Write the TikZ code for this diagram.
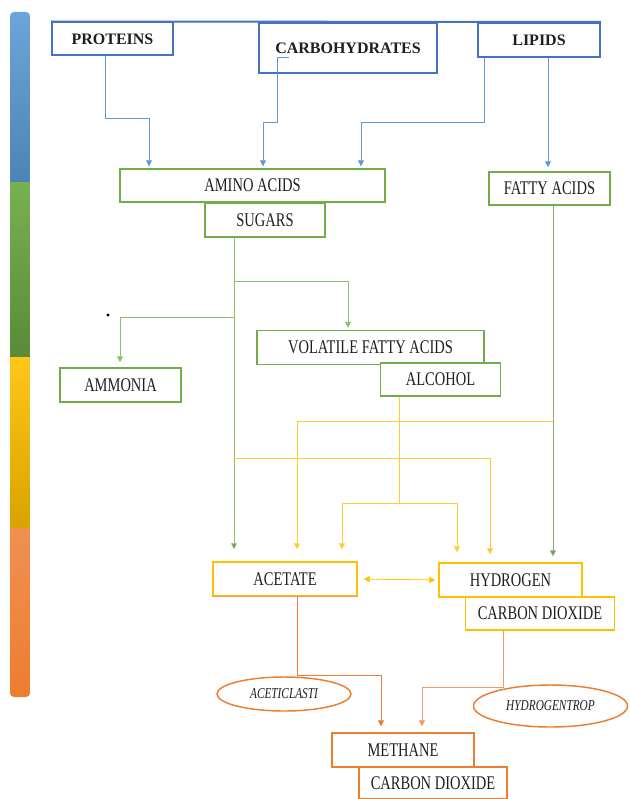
\documentclass[tikz,border=0pt]{standalone}
\usepackage{fontspec}
\setmainfont[FakeStretch=0.75]{Liberation Serif}
\newfontfamily\hdfont{Liberation Serif}
\usetikzlibrary{arrows.meta,shapes.geometric}
\definecolor{bblue}{HTML}{4472C4}
\definecolor{lblue}{HTML}{5B9BD5}
\definecolor{bgreen}{HTML}{70AD47}
\definecolor{lgreen}{HTML}{8CC168}
\definecolor{dgreen}{HTML}{6A9E4A}
\definecolor{byellow}{HTML}{FFC000}
\definecolor{lyellow}{HTML}{FFCC33}
\definecolor{borange}{HTML}{ED7D31}
\definecolor{lorange}{HTML}{F09A60}
\begin{document}
\begin{tikzpicture}[x=0.75pt,y=-0.75pt,
 box/.style={draw,fill=white,rectangle,inner sep=0pt,align=center,text=black!88,font=\fontsize{14.5}{16}\selectfont},
 sz/.style 2 args={minimum width=#1*0.75pt,minimum height=#2*0.75pt},
 topbox/.style={box,draw=bblue,line width=1.5pt,font=\hdfont\fontsize{12}{14}\selectfont\bfseries},
 gbox/.style={box,draw=bgreen,line width=1.1pt},
 ybox/.style={box,draw=byellow,line width=1.1pt},
 obox/.style={box,draw=borange,line width=1.1pt},
 oval/.style={ellipse,draw=borange,line width=1.1pt,fill=white,inner sep=0pt,text=black!88,font=\fontsize{11.3}{13}\selectfont\itshape},
 conn/.style={line width=0.6pt},
 tip/.style={-{Triangle[width=4.5pt,length=4.5pt]}},
]
\useasboundingbox (0,0) rectangle (629,799);
% stage bar
\begin{scope}
\clip[rounded corners=3pt] (10,12) rectangle (30,697);
\shade[top color=lblue!90,bottom color=lblue!85!black] (10,12) rectangle (30,182);
\shade[top color=bgreen!95,bottom color=bgreen!80!black] (10,182) rectangle (30,357);
\shade[top color=byellow!90,bottom color=byellow!85!black] (10,357) rectangle (30,528);
\shade[top color=borange!85,bottom color=borange] (10,528) rectangle (30,697);
\end{scope}
% top boxes
\node[topbox,sz={121}{33}] (proteins) at (112.5,39) {PROTEINS};
\node[topbox,sz={178}{50}] (carbo) at (348,48) {CARBOHYDRATES};
\node[topbox,sz={122}{34}] (lipids) at (539,40) {LIPIDS};
\draw[bblue,line width=1.5pt] (proteins.north west) -- (lipids.north east);
% green boxes
\node[gbox,sz={265}{33}] (amino) at (252.5,185.5) {AMINO ACIDS};
\node[gbox,sz={121}{33}] (fatty) at (549.5,188.5) {FATTY ACIDS};
\node[gbox,sz={120}{34}] (sugars) at (265,220) {SUGARS};
\node[gbox,sz={121}{34}] (ammonia) at (120.5,385) {AMMONIA};
\node[gbox,sz={227}{34}] (vfa) at (370.5,347.5) {VOLATILE FATTY ACIDS};
\node[gbox,sz={120}{33}] (alcohol) at (440.5,379.5) {ALCOHOL};
% yellow boxes
\node[ybox,sz={144}{34}] (acetate) at (285,579) {ACETATE};
\draw[borange!80,line width=1.1pt] (acetate.south west) -- (acetate.south east);
\node[ybox,sz={143}{34}] (hydrogen) at (510.5,580) {HYDROGEN};
\node[ybox,sz={149}{33}] (co2a) at (540,613.5) {CARBON DIOXIDE};
% orange
\node[oval,minimum width=134*0.75pt,minimum height=34*0.75pt] (acl) at (284,694) {ACETICLASTI};
\node[oval,minimum width=154*0.75pt,minimum height=42*0.75pt] (hyd) at (550.5,706) {HYDROGENTROP};
\node[obox,sz={142}{34}] (methane) at (403,750) {METHANE};
\node[obox,sz={148}{32}] (co2b) at (433,783) {CARBON DIOXIDE};
% helper coordinates
\coordinate (p1) at (105,118); \coordinate (p2) at (149,118);
\coordinate (c0) at (289,57); \coordinate (c1) at (277,57); \coordinate (c2) at (277,122); \coordinate (c3) at (263,122);
\coordinate (l1) at (484,122); \coordinate (l2) at (361,122);
\coordinate (lf) at (548,57);
\coordinate (s1) at (234,281); \coordinate (s2) at (348,281);
\coordinate (s3) at (234,317); \coordinate (s4) at (120,317);
\coordinate (f1) at (553,421); \coordinate (f2) at (297,421);
\coordinate (g1) at (234,458); \coordinate (g2) at (490,458);
\coordinate (a1) at (399,503); \coordinate (a2) at (342,503); \coordinate (a3) at (457,503);
\coordinate (m1) at (297,675); \coordinate (m2) at (381,675);
\coordinate (h1) at (503,687); \coordinate (h2) at (422,687);
% blue connectors
\draw[conn,lblue,tip,shorten >=1.5pt] (proteins.south -| p1) -- (p1) -- (p2) -- (amino.north -| p2);
\draw[conn,lblue,tip,shorten >=1.5pt] (c0) -- (c1) -- (c2) -- (c3) -- (amino.north -| c3);
\draw[conn,lblue,tip,shorten >=1.5pt] (lipids.south -| l1) -- (l1) -- (l2) -- (amino.north -| l2);
\draw[conn,lblue,tip,shorten >=3pt] (lipids.south -| lf) -- (fatty.north -| lf);
% green connectors
\draw[conn,lgreen,-{Triangle[width=4.5pt,length=4.5pt,fill=dgreen]},shorten >=9pt] (sugars.south -| s1) -- (acetate.north -| s1);
\draw[conn,lgreen,tip,shorten >=1.5pt] (s1) -- (s2) -- (vfa.north -| s2);
\draw[conn,lgreen,tip,shorten >=3.75pt] (s3) -- (s4) -- (ammonia.north -| s4);
\fill[black] (108,315) circle (1.2pt);
\draw[conn,lgreen!70!gray,-{Triangle[width=4.5pt,length=4.5pt,fill=dgreen]},shorten >=4.5pt] (fatty.south -| f1) -- (hydrogen.north -| f1);
% yellow connectors
\draw[conn,lyellow,tip,shorten >=9pt] (f1) -- (f2) -- (acetate.north -| f2);
\draw[conn,lyellow,tip,shorten >=6pt] (g1) -- (g2) -- (hydrogen.north -| g2);
\draw[conn,lyellow] (alcohol.south -| a1) -- (a1);
\draw[conn,lyellow,tip,shorten >=9pt] (a1) -- (a2) -- (acetate.north -| a2);
\draw[conn,lyellow,tip,shorten >=7.5pt] (a1) -- (a3) -- (hydrogen.north -| a3);
\draw[conn,byellow,{Triangle[width=4.5pt,length=4.5pt]}-{Triangle[width=4.5pt,length=4.5pt]},shorten <=4.5pt,shorten >=2.25pt] (acetate.east) -- (hydrogen.west);
% orange connectors
\draw[conn,borange,tip,shorten >=4.5pt] (acetate.south -| m1) -- (m1) -- (m2) -- (methane.north -| m2);
\draw[conn,lorange,tip,shorten >=4.5pt] (co2a.south -| h1) -- (h1) -- (h2) -- (methane.north -| h2);
\end{tikzpicture}
\end{document}
